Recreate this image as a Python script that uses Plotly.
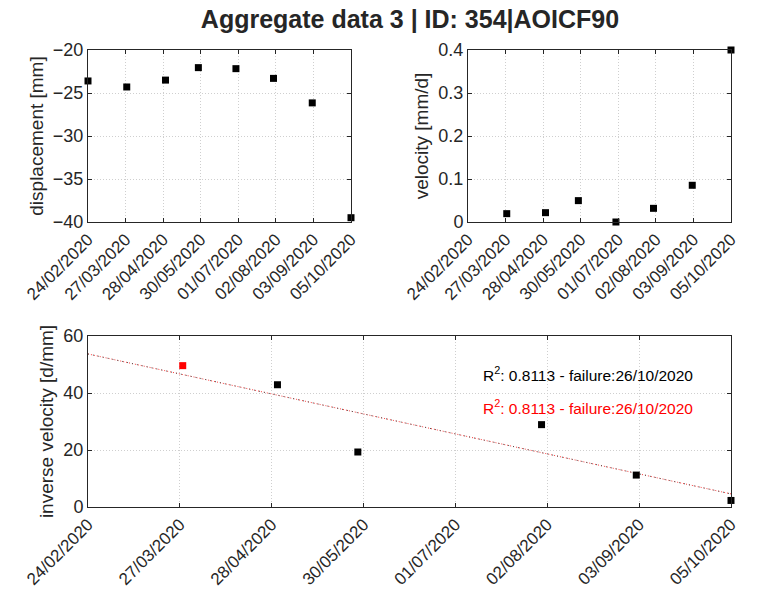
import plotly.graph_objects as go

dates = ["2020-02-24", "2020-03-28", "2020-04-30", "2020-05-28",
         "2020-06-29", "2020-07-31", "2020-09-02", "2020-10-05"]
displacement = [-23.6, -24.3, -23.5, -22.05, -22.17, -23.3, -26.15, -39.5]
velocity = [None, 0.0194, 0.0217, 0.0497, 0.0, 0.0318, 0.0854, 0.400]

inv_dates_red = ["2020-03-28"]
inv_vel_red = [49.6]
inv_dates_black = ["2020-04-30", "2020-05-28", "2020-07-31", "2020-09-02", "2020-10-05"]
inv_vel_black = [42.9, 19.3, 28.9, 11.2, 2.3]

fit_dates = ["2020-02-24", "2020-10-05"]
fit_vals = [53.7, 4.6]

tick_dates = ["2020-02-24", "2020-03-27", "2020-04-28", "2020-05-30",
              "2020-07-01", "2020-08-02", "2020-09-03", "2020-10-05"]
tick_text = ["24/02/2020", "27/03/2020", "28/04/2020", "30/05/2020",
             "01/07/2020", "02/08/2020", "03/09/2020", "05/10/2020"]

title_text = "Aggregate data 3 | ID: 354|AOICF90"
r2_text = "R<sup>2</sup>: 0.8113 - failure:26/10/2020"

W, H = 764, 592
AX = "#262626"
FONT = "Liberation Sans, Arial, sans-serif"

def px(x0, x1):
    return [x0 / W, x1 / W]

def py(top, bottom):
    return [1 - bottom / H, 1 - top / H]

fig = go.Figure()

mk = dict(symbol="square", size=7, color="black")
fig.add_trace(go.Scatter(x=dates, y=displacement, mode="markers", marker=mk,
                         xaxis="x", yaxis="y", cliponaxis=False, showlegend=False))
fig.add_trace(go.Scatter(x=dates, y=velocity, mode="markers", marker=mk,
                         xaxis="x2", yaxis="y2", cliponaxis=False, showlegend=False))
fig.add_trace(go.Scatter(x=fit_dates, y=fit_vals, mode="lines",
                         line=dict(color="#ff4040", width=1, dash="1px,2px"),
                         xaxis="x3", yaxis="y3", showlegend=False))
fig.add_trace(go.Scatter(x=fit_dates, y=fit_vals, mode="lines",
                         line=dict(color="#505050", width=1, dash="1px,4px"),
                         xaxis="x3", yaxis="y3", showlegend=False))
fig.add_trace(go.Scatter(x=inv_dates_black, y=inv_vel_black, mode="markers", marker=mk,
                         xaxis="x3", yaxis="y3", cliponaxis=False, showlegend=False))
fig.add_trace(go.Scatter(x=inv_dates_red, y=inv_vel_red, mode="markers",
                         marker=dict(symbol="square", size=7, color="red"),
                         xaxis="x3", yaxis="y3", cliponaxis=False, showlegend=False))

xcommon = dict(type="date", range=["2020-02-24", "2020-10-05"],
               tickmode="array", tickvals=tick_dates, ticktext=tick_text,
               tickangle=-45, tickfont=dict(size=17, color=AX, family=FONT),
               showgrid=True, gridcolor="#cfcfcf", griddash="1px,2px", gridwidth=1,
               showline=True, linecolor=AX, linewidth=1, mirror="ticks",
               ticks="inside", ticklen=4, tickcolor=AX, zeroline=False,
               automargin=False)

def ycommon(title, rng, dtick):
    return dict(range=rng, dtick=dtick, tick0=rng[0],
                title=dict(text=title, font=dict(size=19, color=AX, family=FONT), standoff=4),
                tickfont=dict(size=18, color=AX, family=FONT),
                showgrid=True, gridcolor="#cfcfcf", griddash="1px,2px", gridwidth=1,
                showline=True, linecolor=AX, linewidth=1, mirror="ticks",
                ticks="inside", ticklen=4, tickcolor=AX, zeroline=False,
                automargin=False)

fig.update_layout(
    width=W, height=H,
    margin=dict(l=0, r=0, t=0, b=0),
    paper_bgcolor="white", plot_bgcolor="white",
    font=dict(family=FONT, color=AX),
    title=dict(text="<b>" + title_text + "</b>", x=410 / W, xanchor="center",
               y=1 - 19 / H, yanchor="middle", automargin=False,
               font=dict(size=25, color=AX, family=FONT)),
    xaxis=dict(xcommon, domain=px(88, 351), anchor="y"),
    yaxis=dict(ycommon("displacement [mm]", [-40, -20], 5), domain=py(50, 222), anchor="x"),
    xaxis2=dict(xcommon, domain=px(468, 731), anchor="y2"),
    yaxis2=dict(ycommon("velocity [mm/d]", [0, 0.4], 0.1), domain=py(50, 222), anchor="x2"),
    xaxis3=dict(xcommon, domain=px(88, 731), anchor="y3"),
    yaxis3=dict(ycommon("inverse velocity [d/mm]", [0, 60], 20), domain=py(336, 507), anchor="x3"),
    annotations=[
        dict(text=r2_text, x=481 / W, y=1 - 374 / H, xref="paper", yref="paper",
             xanchor="left", yanchor="middle", showarrow=False,
             font=dict(size=15.5, color="black", family=FONT)),
        dict(text=r2_text, x=481 / W, y=1 - 407 / H, xref="paper", yref="paper",
             xanchor="left", yanchor="middle", showarrow=False,
             font=dict(size=15.5, color="red", family=FONT)),
    ],
)

fig.write_html("out.html")
